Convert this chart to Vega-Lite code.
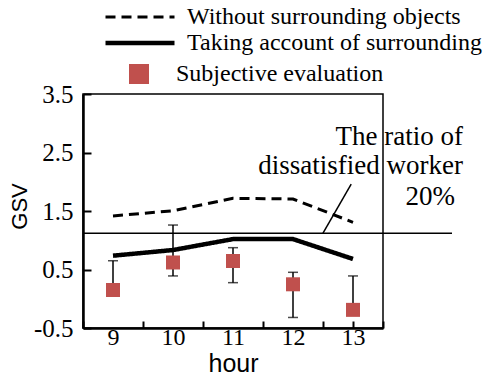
{
  "$schema": "https://vega.github.io/schema/vega-lite/v6.json",
  "width": 300,
  "height": 234,
  "autosize": "none",
  "padding": {"left": 83, "top": 94, "right": 109, "bottom": 47},
  "background": "white",
  "config": {
    "view": {"stroke": "black", "strokeWidth": 1.5},
    "axis": {"domainColor": "black", "domainWidth": 2.5, "tickColor": "black", "tickWidth": 2, "labelColor": "black", "labelFont": "Liberation Serif", "labelFontSize": 24, "grid": false, "titleColor": "black", "titleFontWeight": "normal", "titleFont": "Liberation Sans"},
    "legend": {"labelFont": "Liberation Serif", "labelFontSize": 24, "labelColor": "black", "labelLimit": 0}
  },
  "datasets": {
    "lines": [
      {"hour": 9, "series": "Without surrounding objects", "gsv": 1.415},
      {"hour": 10, "series": "Without surrounding objects", "gsv": 1.505},
      {"hour": 11, "series": "Without surrounding objects", "gsv": 1.717},
      {"hour": 12, "series": "Without surrounding objects", "gsv": 1.705},
      {"hour": 13, "series": "Without surrounding objects", "gsv": 1.307},
      {"hour": 9, "series": "Taking account of surrounding", "gsv": 0.736},
      {"hour": 10, "series": "Taking account of surrounding", "gsv": 0.833},
      {"hour": 11, "series": "Taking account of surrounding", "gsv": 1.02},
      {"hour": 12, "series": "Taking account of surrounding", "gsv": 1.02},
      {"hour": 13, "series": "Taking account of surrounding", "gsv": 0.68}
    ],
    "subj": [
      {"hour": 9, "kind": "Subjective evaluation", "gsv": 0.15},
      {"hour": 10, "kind": "Subjective evaluation", "gsv": 0.62},
      {"hour": 11, "kind": "Subjective evaluation", "gsv": 0.645},
      {"hour": 12, "kind": "Subjective evaluation", "gsv": 0.247},
      {"hour": 13, "kind": "Subjective evaluation", "gsv": -0.19}
    ],
    "err": [
      {"hour": 9, "gsv": 0.15, "gsv2": 0.65},
      {"hour": 10, "gsv": 0.39, "gsv2": 1.26},
      {"hour": 11, "gsv": 0.275, "gsv2": 0.873},
      {"hour": 12, "gsv": -0.32, "gsv2": 0.452},
      {"hour": 13, "gsv": -0.19, "gsv2": 0.39}
    ],
    "caps": [
      {"hour": 9, "gsv": 0.65},
      {"hour": 10, "gsv": 1.26},
      {"hour": 10, "gsv": 0.39},
      {"hour": 11, "gsv": 0.873},
      {"hour": 11, "gsv": 0.275},
      {"hour": 12, "gsv": 0.452},
      {"hour": 12, "gsv": -0.32},
      {"hour": 13, "gsv": 0.39}
    ],
    "refs": [
      {"hour": 8.5, "hour2": 14.65, "gsv": 1.12, "gsv2": 1.12},
      {"hour": 12.5, "hour2": 12.97, "gsv": 1.12, "gsv2": 1.96}
    ],
    "notes": [
      {"hour": 14.833, "gsv": 2.628, "text": "The ratio of"},
      {"hour": 14.833, "gsv": 2.132, "text": "dissatisfied worker"},
      {"hour": 14.7, "gsv": 1.603, "text": "20%"}
    ]
  },
  "encoding": {
    "x": {"field": "hour", "type": "quantitative",
      "scale": {"domain": [8.5, 13.5], "nice": false, "zero": false},
      "axis": {"values": [8.5, 9, 9.5, 10, 10.5, 11, 11.5, 12, 12.5, 13, 13.5],
        "labelExpr": "datum.value % 1 == 0 ? format(datum.value, 'd') : ''",
        "tickColor": {"condition": {"test": "datum.value % 1 == 0 && datum.value != 13", "value": "transparent"}, "value": "black"},
        "tickSize": -7, "tickWidth": 2, "labelPadding": 4, "labelFlush": false, "labelOverlap": false,
        "labelFont": "Liberation Serif", "labelFontSize": 24, "labelColor": "black",
        "domainColor": "black", "domainWidth": 2.5,
        "title": "hour", "titleFont": "Liberation Sans", "titleFontWeight": "normal", "titleColor": "black", "titleFontSize": 25, "titleBaseline": "alphabetic", "titleY": 43}},
    "y": {"field": "gsv", "type": "quantitative",
      "scale": {"domain": [-0.5, 3.5], "nice": false, "zero": false},
      "axis": {"values": [-0.5, 0.5, 1.5, 2.5, 3.5], "tickSize": -8, "tickWidth": 2, "tickColor": "black", "labelPadding": 18,
        "labelExpr": "datum.value < 0 ? '-' + format(-datum.value, '.1f') : format(datum.value, '.1f')",
        "labelFont": "Liberation Serif", "labelFontSize": 25, "labelColor": "black",
        "domainColor": "black", "domainWidth": 2.5,
        "title": "GSV", "titleFont": "Liberation Sans", "titleFontWeight": "normal", "titleColor": "black", "titleFontSize": 22, "titleAngle": -90, "titleAlign": "center", "titleBaseline": "middle", "titleX": -64, "titleY": 112}}
  },
  "layer": [
    {
      "data": {"name": "refs"},
      "mark": {"type": "rule", "color": "black", "strokeWidth": 1.5, "clip": false},
      "encoding": {
        "x2": {"field": "hour2"},
        "y2": {"field": "gsv2"}
      }
    },
    {
      "data": {"name": "lines"},
      "mark": {"type": "line", "color": "black"},
      "encoding": {
        "strokeDash": {"field": "series", "type": "nominal",
          "scale": {"domain": ["Without surrounding objects", "Taking account of surrounding"], "range": [[10, 6], [1, 0]]},
          "legend": {"title": null, "orient": "none", "legendX": 20, "legendY": -89, "symbolType": "stroke", "symbolSize": 4761, "symbolStrokeColor": "black", "labelOffset": 10, "rowPadding": 2, "clipHeight": 24}},
        "strokeWidth": {"field": "series", "type": "nominal",
          "scale": {"domain": ["Without surrounding objects", "Taking account of surrounding"], "range": [3, 4.5]},
          "legend": {"title": null, "orient": "none", "legendX": 20, "legendY": -89, "symbolType": "stroke", "symbolSize": 4761, "symbolStrokeColor": "black", "labelOffset": 10, "rowPadding": 2, "clipHeight": 24}}
      }
    },
    {
      "data": {"name": "err"},
      "mark": {"type": "rule", "color": "black", "strokeWidth": 1.5},
      "encoding": {
        "y2": {"field": "gsv2"}
      }
    },
    {
      "data": {"name": "caps"},
      "mark": {"type": "tick", "color": "black", "orient": "horizontal", "size": 10, "thickness": 1.5},
      "encoding": {}
    },
    {
      "data": {"name": "subj"},
      "mark": {"type": "point", "filled": true, "opacity": 1, "color": "#C0504D"},
      "encoding": {
        "size": {"value": 196},
        "shape": {"field": "kind", "type": "nominal", "scale": {"range": ["square"]},
          "legend": {"title": null, "orient": "none", "legendX": 44, "legendY": -32, "symbolSize": 400, "symbolFillColor": "#C0504D", "symbolStrokeWidth": 0, "labelOffset": 25}}
      }
    },
    {
      "data": {"name": "notes"},
      "mark": {"type": "text", "align": "right", "baseline": "alphabetic", "font": "Liberation Serif", "fontSize": 27, "color": "black"},
      "encoding": {
        "text": {"field": "text"}
      }
    }
  ]
}
